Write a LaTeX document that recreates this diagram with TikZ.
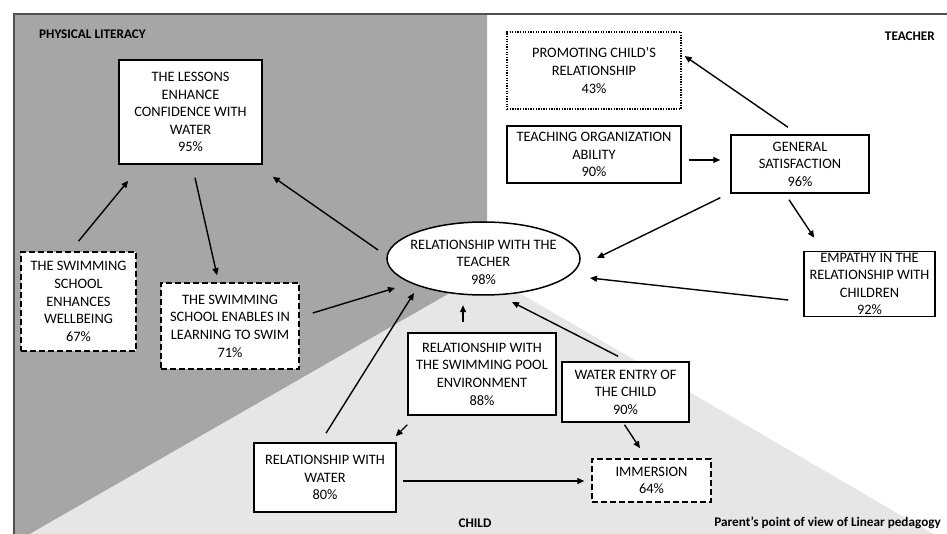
\documentclass[tikz,border=0pt]{standalone}
\usepackage{fontspec}
\setmainfont{Carlito}
\usetikzlibrary{shapes.geometric,arrows.meta,calc}
\definecolor{darkbg}{HTML}{A6A6A6}
\definecolor{lightbg}{HTML}{E6E6E6}
\definecolor{framecol}{HTML}{505050}
\tikzset{
  box/.style={draw=black,fill=white,line width=1.5pt,inner sep=0pt,align=center,
    font=\fontsize{14.4}{17.6}\selectfont},
  dashbox/.style={box,dash pattern=on 6pt off 3pt},
  dotbox/.style={box,line width=1.3pt,dash pattern=on 1.3pt off 1.3pt},
  oval/.style={ellipse,draw=black,fill=white,line width=1.5pt,inner sep=0pt},
  plain/.style={inner sep=0pt,align=center,font=\fontsize{14.4}{17.6}\selectfont},
  region/.style={inner sep=0pt,font=\fontsize{13.2}{15}\selectfont\bfseries},
  conn/.style={line width=1.4pt,-{Triangle[length=7pt,width=6pt]}}
}
\begin{document}
\begin{tikzpicture}[x=1pt,y=-1pt]
\useasboundingbox (0,0) rectangle (947,534);
\fill[white] (0,0) rectangle (947,534);
% background regions
\fill[darkbg] (14,14) -- (487,14) -- (487,272) -- (30,534) -- (14,534) -- cycle;
\fill[lightbg] (30,534) -- (485,273) -- (933,534) -- cycle;
\draw[framecol,line width=2pt] (14,534) -- (14,14) -- (947,14);

% region labels
\node[region,anchor=west] (lblpl) at (39,34) {PHYSICAL LITERACY};
\node[region,anchor=east] (lblte) at (935,36) {TEACHER};
\node[region] (lblch) at (475,523) {CHILD};
\node[region,anchor=east] (lblpv) at (941,523) {Parent’s point of view of Linear pedagogy};

% nodes
\node[box,minimum width=143pt,minimum height=104pt] (les) at (190.5,112)
  {THE LESSONS\\ENHANCE\\CONFIDENCE WITH\\WATER\\95\%};
\node[dashbox,minimum width=115pt,minimum height=99pt] (wb) at (78.5,301.5)
  {THE SWIMMING\\SCHOOL\\ENHANCES\\WELLBEING\\67\%};
\node[dashbox,minimum width=138pt,minimum height=86pt] (swim) at (230,326)
  {THE SWIMMING\\SCHOOL ENABLES IN\\LEARNING TO SWIM\\71\%};
\node[oval,minimum width=193pt,minimum height=73pt] (ell) at (483.5,258.5) {};
\node[plain] (elltext) at (483.5,262) {RELATIONSHIP WITH THE\\TEACHER\\98\%};
\node[dotbox,minimum width=174pt,minimum height=77pt] (prom) at (594,70.5)
  {PROMOTING CHILD’S\\RELATIONSHIP\\43\%};
\node[box,minimum width=174pt,minimum height=57pt] (torg) at (594,154.5)
  {TEACHING ORGANIZATION\\ABILITY\\90\%};
\node[box,minimum width=138pt,minimum height=58pt] (gen) at (800,164)
  {GENERAL\\SATISFACTION\\96\%};
\node[box,minimum width=131pt,minimum height=65pt] (emp) at (869.5,284)
  {EMPATHY IN THE\\RELATIONSHIP WITH\\CHILDREN\\92\%};
\node[box,minimum width=148pt,minimum height=82pt] (pool) at (482,374)
  {RELATIONSHIP WITH\\THE SWIMMING POOL\\ENVIRONMENT\\88\%};
\node[box,minimum width=127pt,minimum height=60pt] (went) at (625.5,392)
  {WATER ENTRY OF\\THE CHILD\\90\%};
\node[box,minimum width=142pt,minimum height=69pt] (wat) at (325,477.5)
  {RELATIONSHIP WITH\\WATER\\80\%};
\node[dashbox,minimum width=119pt,minimum height=43pt] (imm) at (651.5,480.5)
  {IMMERSION\\64\%};

% connectors
\draw[conn] ($(wb.north)+(0,-10)$) -- ($(les.south west)+(10,16)$);
\draw[conn] ($(les.south)+(4.5,13)$) -- ($(swim.north)+(-13,-7)$);
\draw[conn] ($(ell)+(-105.5,-8.5)$) -- ($(les.south east)+(10,12)$);
\draw[conn] ($(swim.east)+(13,-13)$) -- ($(ell)+(-88.5,29.5)$);
\draw[conn] ($(wat.north)+(1,-9)$) -- ($(ell)+(-69.5,34.5)$);
\draw[conn] ($(pool.north)+(-19,-10)$) -- ($(pool.north)+(-19,-27)$);
\draw[conn] ($(pool.south west)+(0,9)$) -- ($(wat.north east)+(-1,-6)$);
\draw[conn] ($(went.north)+(-7.5,-5)$) -- ($(ell)+(28.5,43.5)$);
\draw[conn] ($(went.south)+(-1,2)$) -- ($(imm.north)+(-11.5,-10)$);
\draw[conn] ($(wat.east)+(6,3.5)$) -- ($(imm.west)+(-7,0.5)$);
\draw[conn] ($(torg.east)+(7,5.5)$) -- ($(gen.west)+(-10,-4)$);
\draw[conn] ($(gen.north)+(-12,-7)$) -- ($(prom.east)+(3,-14.5)$);
\draw[conn] ($(gen.south west)+(-10,4)$) -- ($(ell)+(113.5,-0.5)$);
\draw[conn] ($(gen.south)+(-11,6)$) -- ($(emp.north west)+(11,-13)$);
\draw[conn] ($(emp.west)+(-15,16)$) -- ($(ell)+(106.5,19.5)$);
\end{tikzpicture}
\end{document}
